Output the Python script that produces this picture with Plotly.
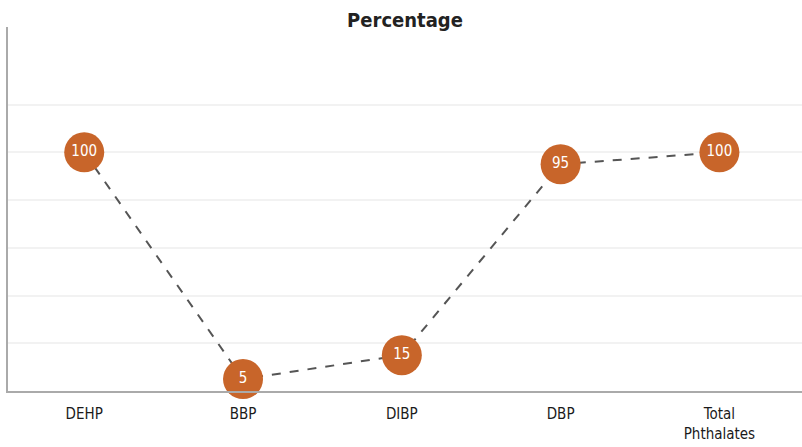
import plotly.graph_objects as go

categories = ["DEHP", "BBP", "DIBP", "DBP", "Total<br>Phthalates"]
values = [100, 5, 15, 95, 100]
labels = ["100", "5", "15", "95", "100"]
grid_vals = [20, 40, 60, 80, 100, 120]

FONT = "DejaVu Sans Condensed, sans-serif"

fig = go.Figure()
fig.add_trace(go.Scatter(
    x=list(range(len(categories))),
    y=values,
    mode="lines+markers+text",
    text=labels,
    textposition="middle center",
    textfont=dict(color="white", size=15, family=FONT),
    line=dict(color="#555555", width=2, dash="dash"),
    marker=dict(size=40, color="#C8652A", line=dict(width=0)),
    cliponaxis=False,
    hoverinfo="skip",
))

fig.update_layout(
    width=802, height=447,
    margin=dict(l=8, r=0, t=27, b=56),
    paper_bgcolor="white", plot_bgcolor="white",
    showlegend=False,
    title=dict(text="<b>Percentage</b>", x=0.505, xanchor="center", y=0.955, yanchor="middle",
               font=dict(size=20, color="#222222", family=FONT)),
    xaxis=dict(
        range=[-0.48, 4.52],
        tickvals=list(range(len(categories))),
        ticktext=categories,
        showgrid=False, zeroline=False,
        showline=True, linecolor="#aaaaaa", linewidth=2,
        tickfont=dict(size=15, color="#1a1a1a", family=FONT),
        ticks="", ticklabelstandoff=8,
    ),
    yaxis=dict(
        range=[0, 152.5],
        tickvals=grid_vals,
        showticklabels=False,
        showgrid=True, gridcolor="#f2f2f2", gridwidth=2,
        zeroline=False,
        showline=True, linecolor="#aaaaaa", linewidth=2,
    ),
)

fig.write_html("out.html")
